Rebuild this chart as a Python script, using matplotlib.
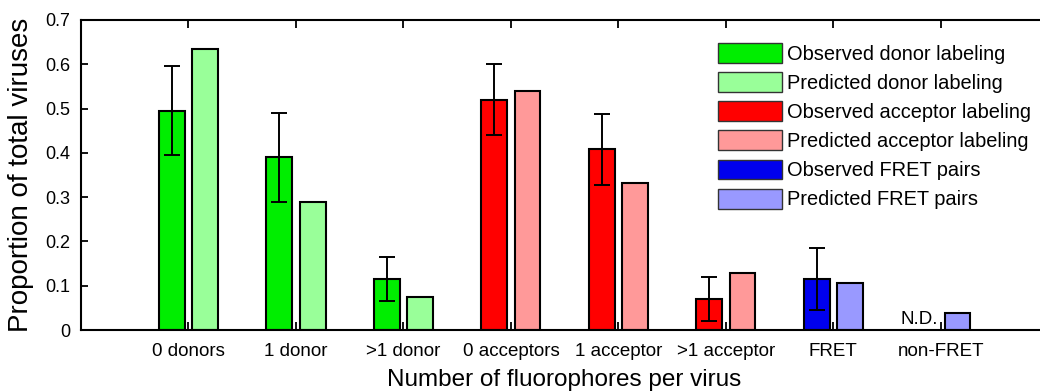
import matplotlib.pyplot as plt
import numpy as np

plt.rcParams['font.family'] = ['Liberation Sans', 'DejaVu Sans']

categories = ['0 donors', '1 donor', '>1 donor', '0 acceptors', '1 acceptor',
              '>1 acceptor', 'FRET', 'non-FRET']
observed = [0.495, 0.39, 0.115, 0.52, 0.408, 0.07, 0.115, 0.0]
observed_err = [0.1, 0.1, 0.05, 0.08, 0.08, 0.05, 0.07, 0.0]
predicted = [0.635, 0.29, 0.075, 0.54, 0.333, 0.128, 0.107, 0.038]
obs_colors = ['#00ee00'] * 3 + ['#ff0000'] * 3 + ['#0000ee'] * 2
pred_colors = ['#99ff99'] * 3 + ['#ff9999'] * 3 + ['#9999ff'] * 2
legend_labels = ['Observed donor labeling', 'Predicted donor labeling',
                 'Observed acceptor labeling', 'Predicted acceptor labeling',
                 'Observed FRET pairs', 'Predicted FRET pairs']
legend_colors = ['#00ee00', '#99ff99', '#ff0000', '#ff9999', '#0000ee', '#9999ff']

fig = plt.figure(figsize=(10.4, 3.91), dpi=100)
ax = fig.add_axes([0.0779, 0.156, 0.93, 0.793])

x = np.arange(1, len(categories) + 1)
w = 0.24
off = 0.155
has_obs = [v > 0 for v in observed]
ax.bar(x[has_obs] - off, np.array(observed)[has_obs], w,
       color=np.array(obs_colors)[has_obs], edgecolor='black', linewidth=1.5)
ax.bar(x + off, predicted, w, color=pred_colors, edgecolor='black', linewidth=1.5)
ax.errorbar(x[has_obs] - off, np.array(observed)[has_obs],
            yerr=np.array(observed_err)[has_obs], fmt='none', ecolor='black',
            elinewidth=1.4, capsize=5.5, capthick=1.4)
ax.text(x[-1] - 0.03, 0.004, 'N.D.', ha='right', va='bottom', fontsize=13.5)

ax.set_xlim(0, 9)
ax.set_ylim(0, 0.7)
ax.set_xticks(x)
ax.set_xticklabels(categories, fontsize=13.5)
ax.set_yticks(np.arange(0, 0.71, 0.1))
ax.set_yticklabels(['0'] + ['%.1f' % v for v in np.arange(0.1, 0.71, 0.1)], fontsize=13)
ax.tick_params(axis='both', direction='in', width=1.3)
ax.tick_params(axis='x', top=True, length=6, pad=9)
ax.tick_params(axis='y', right=True, length=5, pad=8)
for s in ax.spines.values():
    s.set_linewidth(1.5)

ax.set_xlabel('Number of fluorophores per virus', fontsize=17.5, labelpad=7)
ax.set_ylabel('Proportion of total viruses', fontsize=20, labelpad=8)

handles = [plt.Rectangle((0, 0), 1, 1, facecolor=c, edgecolor='#333333', linewidth=1)
           for c in legend_colors]
ax.legend(handles, legend_labels, loc='upper left', bbox_to_anchor=(0.659, 0.925),
          frameon=False, fontsize=14.4, handlelength=3.2, handleheight=1.15,
          labelspacing=0.42, handletextpad=0.25, borderpad=0, borderaxespad=0)

fig.savefig('out.png', dpi=100)
